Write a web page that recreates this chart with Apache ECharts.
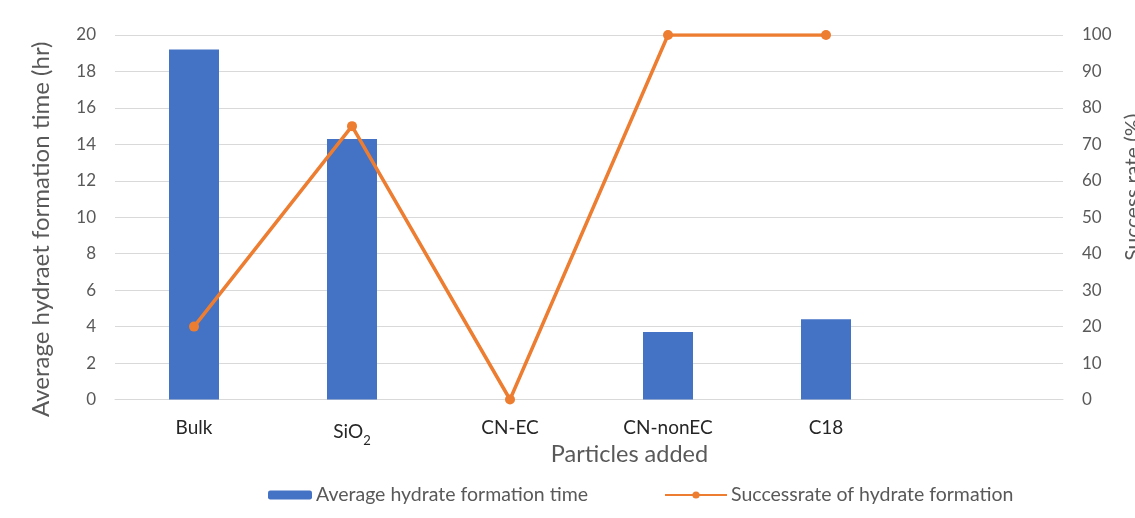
<!DOCTYPE html>
<html>
<head>
<meta charset="utf-8">
<script src="https://cdn.jsdelivr.net/npm/echarts@6/dist/echarts.min.js"></script>
<style>
  html, body { margin: 0; padding: 0; background: #fff; }
  #chart { width: 1135px; height: 518px; }
</style>
</head>
<body>
<div id="chart"></div>
<script>
// Particle types tested (last slot intentionally left empty)
const categories = ['Bulk', 'SiO2', 'CN-EC', 'CN-nonEC', 'C18', ''];
// Average hydrate formation time (hr)
const formationTime = [19.2, 14.3, null, 3.7, 4.4, null];
// Success rate of hydrate formation (%)
const successRate = [20, 75, 0, 100, 100, null];

const leftTicks = { min: 0, max: 20, interval: 2 };
const rightTicks = { min: 0, max: 100, interval: 10 };

const FONT = 'Lato, "Open Sans", sans-serif';
const GREY = '#595959';
const DARK = '#262626';
const BLUE = '#4472C4';
const ORANGE = '#ED7D31';

const chart = echarts.init(document.getElementById('chart'));

chart.setOption({
  animation: false,
  textStyle: { fontFamily: FONT },
  grid: { left: 115, right: 72, top: 35, bottom: 118.5, containLabel: false, outerBoundsMode: 'none' },
  legend: [
    {
      data: ['Average hydrate formation time'],
      left: 263, top: 480,
      itemWidth: 44, itemHeight: 9, itemGap: 4,
      textStyle: { color: GREY, fontSize: 19.5, fontFamily: FONT, padding: [0, 0, 0, -1] }
    },
    {
      data: ['Successrate of hydrate formation'],
      left: 659, top: 480,
      itemWidth: 62, itemHeight: 9,
      textStyle: { color: GREY, fontSize: 19.5, fontFamily: FONT, padding: [0, 0, 0, -1] }
    }
  ],
  xAxis: {
    type: 'category',
    data: categories,
    name: 'Particles added',
    nameLocation: 'middle',
    nameGap: 43,
    nameMoveOverlap: false,
    nameTextStyle: { color: GREY, fontSize: 23.5, padding: [0, 0, 0, 81] },
    axisLine: { show: true, lineStyle: { color: '#D9D9D9', width: 1 } },
    axisTick: { show: false },
    axisLabel: {
      margin: 16,
      interval: 0,
      // SiO2 gets a subscript 2; its taller line box drops it slightly below the other labels
      formatter: v => v === 'SiO2' ? '{c|SiO}{s|2}' : '{b|' + v + '}',
      rich: {
        b: { fontSize: 19, color: DARK, fontFamily: FONT, verticalAlign: 'bottom', lineHeight: 22 },
        c: { fontSize: 19, color: DARK, fontFamily: FONT, verticalAlign: 'middle', lineHeight: 32 },
        s: { fontSize: 13, color: DARK, fontFamily: FONT, verticalAlign: 'bottom', lineHeight: 16 }
      }
    }
  },
  yAxis: [
    {
      type: 'value',
      min: leftTicks.min, max: leftTicks.max, interval: leftTicks.interval,
      name: 'Average hydraet formation time (hr)',
      nameLocation: 'middle',
      nameGap: 62,
      nameTextStyle: { color: GREY, fontSize: 24, padding: [0, 24, 0, 0] },
      axisLine: { show: false },
      axisTick: { show: false },
      axisLabel: { margin: 19, color: GREY, fontSize: 17 },
      splitLine: { lineStyle: { color: '#D9D9D9', width: 1 } }
    },
    {
      type: 'value',
      min: rightTicks.min, max: rightTicks.max, interval: rightTicks.interval,
      name: 'Success rate (%)',
      nameLocation: 'middle',
      nameGap: 47,
      nameTextStyle: { color: GREY, fontSize: 21, padding: [0, 0, 0, 60] },
      axisLine: { show: false },
      axisTick: { show: false },
      axisLabel: { margin: 19, color: GREY, fontSize: 17 },
      splitLine: { show: false }
    }
  ],
  series: [
    {
      name: 'Average hydrate formation time',
      type: 'bar',
      data: formationTime,
      yAxisIndex: 0,
      barWidth: 50,
      itemStyle: { color: BLUE }
    },
    {
      name: 'Successrate of hydrate formation',
      type: 'line',
      data: successRate,
      yAxisIndex: 1,
      symbol: 'circle',
      symbolSize: 10,
      connectNulls: false,
      lineStyle: { color: ORANGE, width: 3.5 },
      itemStyle: { color: ORANGE }
    }
  ]
});
</script>
</body>
</html>
